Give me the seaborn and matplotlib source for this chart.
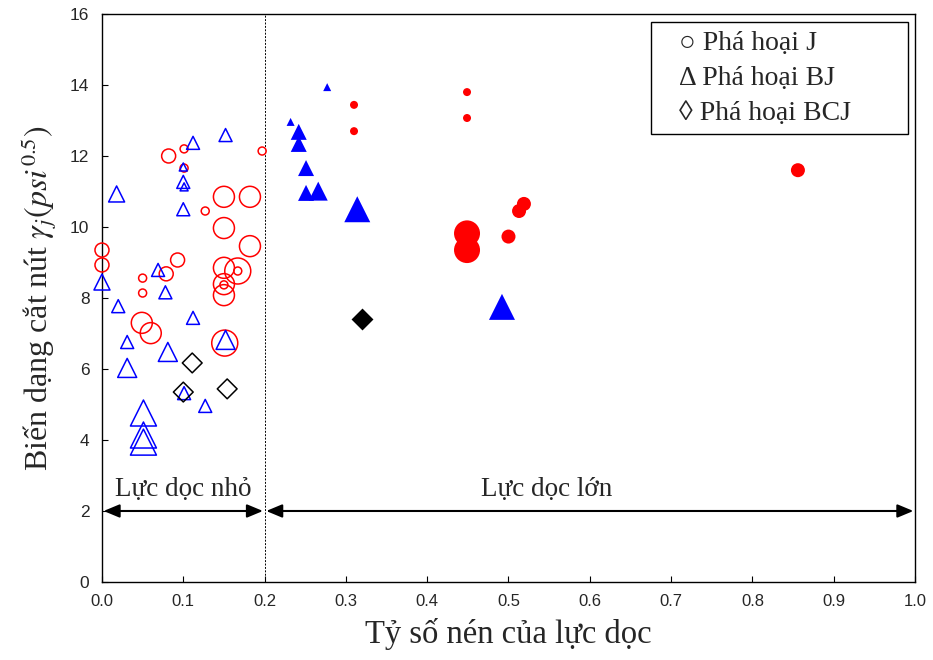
import numpy as np
import pandas as pd
import matplotlib
matplotlib.use("Agg")
import matplotlib.pyplot as plt
import seaborn as sns
from matplotlib.lines import Line2D

# ---------------- data ----------------
# Small axial-force region (open markers)
j_low_x = [0.000, 0.000, 0.050, 0.050, 0.049, 0.060, 0.082, 0.101, 0.101, 0.079, 0.093, 0.127,
           0.150, 0.182, 0.150, 0.182, 0.150, 0.167, 0.167, 0.150, 0.150, 0.150, 0.151, 0.197]
j_low_y = [9.35, 8.93, 8.56, 8.14, 7.30, 7.01, 12.00, 12.20, 11.66, 8.68, 9.07, 10.45,
           10.85, 10.85, 9.97, 9.46, 8.85, 8.76, 8.76, 8.39, 8.37, 8.08, 6.73, 12.14]
j_low_s = [2, 2, 1, 1, 3, 3, 2, 1, 1, 2, 2, 1,
           3, 3, 3, 3, 3, 4, 1, 3, 1, 3, 4, 1]

bj_low_x = [0.000, 0.018, 0.020, 0.031, 0.031, 0.051, 0.051, 0.051, 0.069, 0.078, 0.081,
            0.100, 0.100, 0.101, 0.100, 0.112, 0.112, 0.101, 0.127, 0.152, 0.152]
bj_low_y = [8.45, 10.93, 7.77, 6.76, 6.03, 4.76, 4.14, 3.94, 8.79, 8.16, 6.48,
            11.69, 11.27, 11.13, 10.50, 12.37, 7.44, 5.32, 4.96, 12.59, 6.82]
bj_low_s = [3, 3, 2, 2, 4, 5, 5, 5, 2, 2, 4,
            1, 2, 1, 2, 2, 2, 2, 2, 2, 4]

bcj_low_x = [0.111, 0.100, 0.154]
bcj_low_y = [6.17, 5.35, 5.44]
bcj_low_s = [1, 1, 1]

# Large axial-force region (filled markers)
j_high_x = [0.310, 0.310, 0.449, 0.449, 0.449, 0.449, 0.500, 0.513, 0.519, 0.856]
j_high_y = [13.44, 12.70, 13.80, 13.07, 9.82, 9.35, 9.73, 10.45, 10.65, 11.60]
j_high_s = [1, 1, 1, 1, 4, 4, 2, 2, 2, 2]

bj_high_x = [0.277, 0.232, 0.242, 0.242, 0.251, 0.251, 0.266, 0.314, 0.492]
bj_high_y = [13.94, 12.96, 12.68, 12.34, 11.66, 10.96, 11.01, 10.50, 7.75]
bj_high_s = [1, 1, 3, 3, 3, 3, 4, 5, 5]

bcj_high_x = [0.320]
bcj_high_y = [7.41]
bcj_high_s = [2]

x_ticks = [0.0, 0.1, 0.2, 0.3, 0.4, 0.5, 0.6, 0.7, 0.8, 0.9, 1.0]
y_ticks = [0, 2, 4, 6, 8, 10, 12, 14, 16]
legend_labels = ["○ Phá hoại J", "Δ Phá hoại BJ", "◊ Phá hoại BCJ"]
region_labels = ["Lực dọc nhỏ", "Lực dọc lớn"]
region_bounds = [0.0, 0.2, 1.0]
x_label = "Tỷ số nén của lực dọc"
y_label = r"Biến dạng cắt nút $\gamma_j(psi^{0.5})$"

# ---------------- style ----------------
sns.set_theme(style="white")
plt.rcParams["font.family"] = ["Liberation Serif", "DejaVu Serif"]
plt.rcParams["mathtext.fontset"] = "stix"
plt.rcParams["xtick.direction"] = "in"
plt.rcParams["ytick.direction"] = "in"

def px2(p):
    return (p * 0.72) ** 2

circle_sizes = {1: px2(8), 2: px2(14), 3: px2(21), 4: px2(26)}
tri_sizes = {1: px2(8), 2: px2(13), 3: px2(16), 4: px2(19), 5: px2(26)}
dia_sizes = {1: px2(14), 2: px2(15.5)}

def frame(xs, ys, ss):
    return pd.DataFrame({"x": xs, "y": ys, "sz": ss})

fig = plt.figure(figsize=(9.33, 6.60), dpi=100)
ax = fig.add_axes([0.1093, 0.1182, 0.8714, 0.8606])

groups = [
    (frame(j_low_x, j_low_y, j_low_s), "o", circle_sizes, "#FF0000", False),
    (frame(bj_low_x, bj_low_y, bj_low_s), "^", tri_sizes, "#0000FF", False),
    (frame(bcj_low_x, bcj_low_y, bcj_low_s), "D", dia_sizes, "black", False),
    (frame(j_high_x, j_high_y, j_high_s), "o", circle_sizes, "#FF0000", True),
    (frame(bj_high_x, bj_high_y, bj_high_s), "^", tri_sizes, "#0000FF", True),
    (frame(bcj_high_x, bcj_high_y, bcj_high_s), "D", dia_sizes, "black", True),
]
for df, mk, sizes, col, filled in groups:
    sub_sizes = {k: v for k, v in sizes.items() if k in set(df["sz"])}
    sns.scatterplot(data=df, x="x", y="y", size="sz", sizes=sub_sizes, marker=mk,
                    color=col, facecolor=col if filled else "none", edgecolor=col,
                    linewidth=0 if filled else 1.1, legend=False, ax=ax, zorder=3,
                    clip_on=False)

# region divider and arrows
ax.axvline(region_bounds[1], color="black", lw=0.7, ls=(0, (2, 1.5)), zorder=1)
for i in range(2):
    a, b = region_bounds[i], region_bounds[i + 1]
    ax.annotate("", xy=(a + 0.002, 2), xytext=(b - 0.002, 2),
                arrowprops=dict(arrowstyle="<|-|>,head_length=0.6,head_width=0.25",
                                color="black", lw=1.5,
                                mutation_scale=16, shrinkA=0, shrinkB=0))
ax.text(0.1, 2.6, region_labels[0], ha="center", va="center", fontsize=19.5)
ax.text(0.547, 2.6, region_labels[1], ha="center", va="center", fontsize=19.5)

ax.set_xlim(0, 1.0)
ax.set_ylim(0, 16)
ax.set_xticks(x_ticks)
ax.set_yticks(y_ticks)
ax.set_xticklabels([f"{v:.1f}" for v in x_ticks], fontfamily="Liberation Sans", fontsize=12)
ax.set_yticklabels([str(v) for v in y_ticks], fontfamily="Liberation Sans", fontsize=12.5)
ax.tick_params(axis="both", which="both", length=4, width=0.8, color="black",
               bottom=True, left=True, top=False, right=False, pad=9)
for sp in ax.spines.values():
    sp.set_color("black")
    sp.set_linewidth(1.0)
    sp.set_visible(True)

ax.set_xlabel(x_label, fontsize=23.5, labelpad=6)
ax.set_ylabel(y_label, fontsize=23, labelpad=8)

handles = [Line2D([], [], linestyle="none") for _ in legend_labels]
leg = ax.legend(handles, legend_labels, loc="upper left",
                bbox_to_anchor=(0.675, 0.5, 0.316, 0.486), mode="expand",
                frameon=True, fancybox=False, edgecolor="black",
                handlelength=0.6, handletextpad=0.1, labelspacing=0.35,
                borderpad=0.3, borderaxespad=0.0, fontsize=20, framealpha=1)
leg.get_frame().set_linewidth(1.0)

fig.savefig("out.png", dpi=100)
